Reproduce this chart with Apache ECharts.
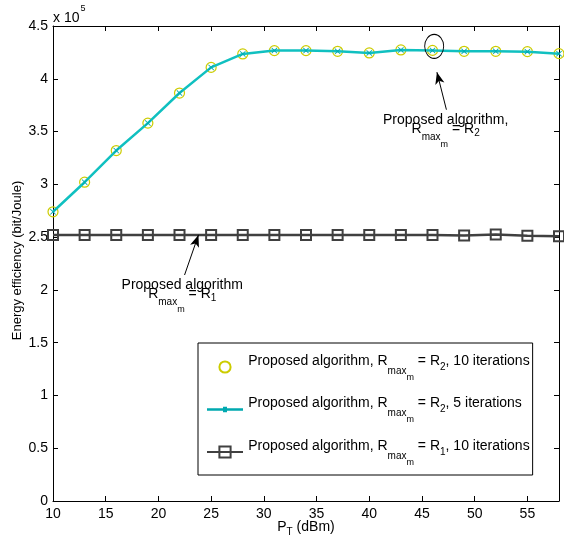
<!DOCTYPE html>
<html>
<head>
<meta charset="utf-8">
<script src="https://cdn.jsdelivr.net/npm/echarts@6/dist/echarts.min.js"></script>
<style>
  html, body { margin: 0; padding: 0; background: #fff; }
  #chart { width: 564px; height: 542px; }
</style>
</head>
<body>
<div id="chart"></div>
<script>
  // transmit power (dBm)
  var powerDbm = [10, 13, 16, 19, 22, 25, 28, 31, 34, 37, 40, 43, 46, 49, 52, 55, 58];
  // energy efficiency (bit/Joule)
  var eeR2Iter10 = [274000, 302000, 332000, 358000, 386500, 410800, 423500, 426700, 426700, 426000, 424500, 427300, 426900, 426000, 426000, 425700, 423800];
  var eeR2Iter5 = [274000, 302000, 332000, 358000, 386500, 410800, 423500, 426700, 426700, 426000, 424500, 427300, 426900, 426000, 426000, 425700, 423800];
  var eeR1Iter10 = [252000, 252000, 252000, 252000, 252000, 252000, 252000, 252000, 252000, 252000, 252000, 252000, 252000, 251500, 252500, 251200, 250800];

  var seriesNames = [
    'Proposed algorithm, R_max_m = R_2, 10 iterations',
    'Proposed algorithm, R_max_m = R_2, 5 iterations',
    'Proposed algorithm, R_max_m = R_1, 10 iterations'
  ];
  var legendRich = {};
  legendRich[seriesNames[0]] = '{z| }{t|Proposed algorithm, R}{s|max}{m|m}{t| = R}{d|2}{t|, 10 iterations}';
  legendRich[seriesNames[1]] = '{z| }{t|Proposed algorithm, R}{s|max}{m|m}{t| = R}{d|2}{t|, 5 iterations}';
  legendRich[seriesNames[2]] = '{z| }{t|Proposed algorithm, R}{s|max}{m|m}{t| = R}{d|1}{t|, 10 iterations}';

  // annotations, in data coordinates
  var circleMark = [46.16, 430700];
  var arrowR2 = [[47.32, 370700], [46.42, 406300]];
  var arrowR1 = [[22.48, 214100], [23.80, 252100]];
  var textR2 = [47.25, 357000];
  var textR1 = [22.26, 200500];

  var font = 'Liberation Sans, Arial, Helvetica, sans-serif';

  function zip(xs, ys) {
    return xs.map(function (x, i) { return [x, ys[i]]; });
  }

  var subRich = {
    h: {fontSize: 14, fontFamily: font, color: '#000', verticalAlign: 'top', lineHeight: 9},
    t: {fontSize: 14, fontFamily: font, color: '#000', verticalAlign: 'top', lineHeight: 13},
    s: {fontSize: 10, fontFamily: font, color: '#000', verticalAlign: 'top', lineHeight: 11, padding: [10, 0, 0, 0]},
    m: {fontSize: 9, fontFamily: font, color: '#000', verticalAlign: 'top', lineHeight: 10, padding: [17.5, 0, 0, 0]},
    d: {fontSize: 10, fontFamily: font, color: '#000', verticalAlign: 'top', lineHeight: 11, padding: [6, 0, 0, 0]}
  };

  var chart = echarts.init(document.getElementById('chart'));

  var axisCommon = {
    axisLine: {show: true, onZero: false, lineStyle: {color: '#000', width: 1}},
    axisTick: {show: true, inside: true, length: 5, lineStyle: {color: '#000', width: 1}},
    splitLine: {show: false}
  };

  var option = {
    animation: false,
    backgroundColor: '#fff',
    grid: {left: 53, right: 5, top: 26, bottom: 41, show: false, containLabel: false, outerBoundsMode: 'none'},
    xAxis: [
      Object.assign({
        type: 'value', min: 10, max: 58, interval: 5, position: 'bottom',
        axisLabel: {color: '#000', fontSize: 14, fontFamily: font, margin: 6.5, showMaxLabel: false},
        name: '{t|P}{s|T}{t| (dBm)}',
        nameLocation: 'middle',
        nameGap: 19,
        nameMoveOverlap: false,
        nameTextStyle: {
          rich: {
            t: {fontSize: 14, fontFamily: font, color: '#000', verticalAlign: 'top', lineHeight: 15},
            s: {fontSize: 10, fontFamily: font, color: '#000', verticalAlign: 'top', lineHeight: 11, padding: [7, 0, 0, 0]}
          }
        }
      }, axisCommon),
      Object.assign({
        type: 'value', min: 10, max: 58, interval: 5, position: 'top',
        axisLabel: {show: false}
      }, axisCommon)
    ],
    yAxis: [
      Object.assign({
        type: 'value', min: 0, max: 450000, interval: 50000, position: 'left',
        axisLabel: {
          color: '#000', fontSize: 14, fontFamily: font, margin: 5,
          formatter: function (v) { return String(Math.round(v / 10000) / 10); }
        }
      }, axisCommon),
      Object.assign({
        type: 'value', min: 0, max: 450000, interval: 50000, position: 'right',
        axisLabel: {show: false}
      }, axisCommon)
    ],
    legend: {
      orient: 'vertical',
      left: 198,
      top: 343,
      padding: [11, 3, 8, 8],
      itemGap: 14.5,
      itemWidth: 36,
      itemHeight: 14,
      borderColor: '#000',
      borderWidth: 1,
      backgroundColor: '#fff',
      data: [
        {name: seriesNames[0]},
        {name: seriesNames[1], icon: 'path://M0,6L36,6L36,8.5L0,8.5Z M16,4.5L20,4.5L20,10L16,10Z'},
        {name: seriesNames[2]}
      ],
      formatter: function (name) { return legendRich[name]; },
      textStyle: {
        rich: {
          z: {fontSize: 1, fontFamily: font, color: '#000', verticalAlign: 'top', lineHeight: 26},
          t: {fontSize: 14, fontFamily: font, color: '#000', verticalAlign: 'top', lineHeight: 15},
          s: {fontSize: 10, fontFamily: font, color: '#000', verticalAlign: 'top', lineHeight: 11, padding: [12, 0, 0, 0]},
          m: {fontSize: 9, fontFamily: font, color: '#000', verticalAlign: 'top', lineHeight: 10, padding: [19, 0, 0, 0]},
          d: {fontSize: 10, fontFamily: font, color: '#000', verticalAlign: 'top', lineHeight: 11, padding: [8, 0, 0, 0]}
        }
      }
    },
    graphic: [
      {
        type: 'text', left: 53, top: 4,
        style: {
          text: '{t|x 10}{p|5}',
          rich: {
            t: {fontSize: 14, fontFamily: font, fill: '#000', verticalAlign: 'top', lineHeight: 14, padding: [7.5, 0, 0, 0]},
            p: {fontSize: 9, fontFamily: font, fill: '#000', verticalAlign: 'top', lineHeight: 10, padding: [0, 0, 0, 1]}
          }
        }
      },
      {
        type: 'text', x: 17.5, y: 260.5, rotation: Math.PI / 2,
        style: {
          text: 'Energy efficiency (bit/Joule)',
          fontSize: 13, fontFamily: font, fill: '#000',
          align: 'center', verticalAlign: 'middle'
        }
      }
    ],
    series: [
      {
        name: seriesNames[0],
        type: 'line',
        z: 1,
        data: zip(powerDbm, eeR2Iter10),
        symbol: 'circle',
        symbolSize: 10,
        itemStyle: {color: 'rgba(255,255,255,0)', borderColor: '#cccc00', borderWidth: 1.2},
        lineStyle: {width: 0, opacity: 0},
        emphasis: {disabled: true}
      },
      {
        name: seriesNames[1],
        type: 'line',
        z: 2,
        data: zip(powerDbm, eeR2Iter5),
        symbol: 'path://M0,1L1,0L5,4L9,0L10,1L6,5L10,9L9,10L5,6L1,10L0,9L4,5Z',
        symbolSize: 6,
        itemStyle: {color: '#00a9b0'},
        lineStyle: {width: 2.5, color: '#10c0c0'},
        emphasis: {disabled: true}
      },
      {
        name: seriesNames[2],
        type: 'line',
        z: 3,
        data: zip(powerDbm, eeR1Iter10),
        symbol: 'rect',
        symbolSize: 10,
        itemStyle: {color: 'rgba(255,255,255,0)', borderColor: '#404040', borderWidth: 2},
        lineStyle: {width: 2.5, color: '#404040'},
        emphasis: {disabled: true},
        markLine: {
          silent: true,
          symbol: ['none', 'arrow'],
          symbolSize: [7, 12],
          lineStyle: {color: '#000', width: 1, type: 'solid'},
          label: {show: false},
          emphasis: {disabled: true},
          data: [
            [{coord: arrowR2[0]}, {coord: arrowR2[1]}],
            [{coord: arrowR1[0]}, {coord: arrowR1[1]}]
          ]
        },
        markPoint: {
          silent: true,
          emphasis: {disabled: true},
          data: [
            {
              coord: circleMark, symbol: 'circle', symbolSize: [19, 24],
              itemStyle: {color: 'rgba(255,255,255,0)', borderColor: '#000', borderWidth: 1},
              label: {show: false}
            },
            {
              coord: textR2, symbol: 'circle', symbolSize: 1,
              itemStyle: {color: 'rgba(255,255,255,0)', borderWidth: 0},
              label: {
                show: true, position: 'inside', align: 'center', verticalAlign: 'middle',
                formatter: '{h|Proposed algorithm,}\n{t|R}{s|max}{m|m}{t| = R}{d|2}',
                rich: subRich
              }
            },
            {
              coord: textR1, symbol: 'circle', symbolSize: 1,
              itemStyle: {color: 'rgba(255,255,255,0)', borderWidth: 0},
              label: {
                show: true, position: 'inside', align: 'center', verticalAlign: 'middle',
                formatter: '{h|Proposed algorithm}\n{t|R}{s|max}{m|m}{t| = R}{d|1}',
                rich: subRich
              }
            }
          ]
        }
      }
    ]
  };

  chart.setOption(option);
</script>
</body>
</html>
